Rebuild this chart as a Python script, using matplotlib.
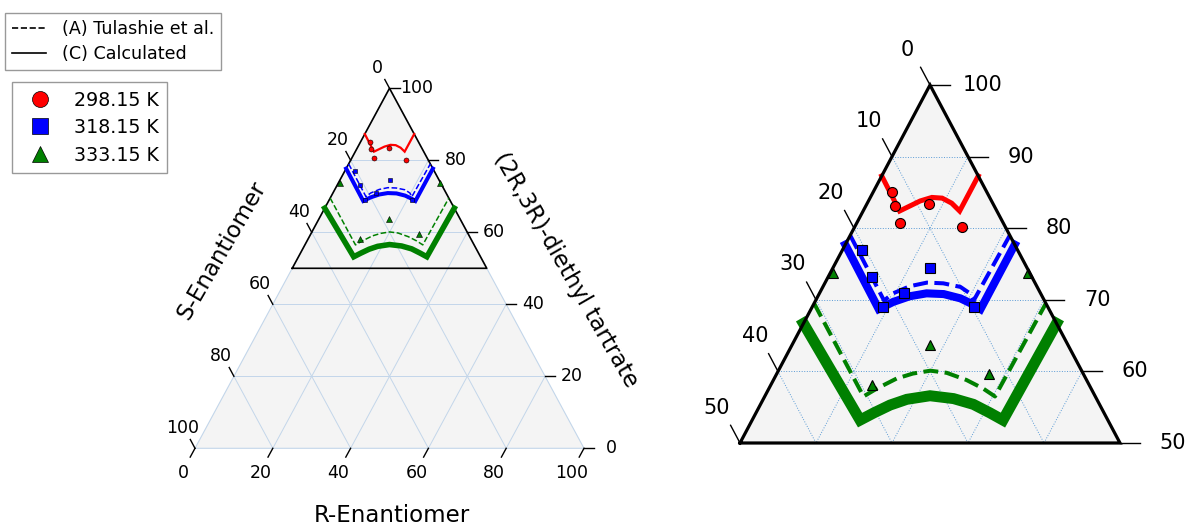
import numpy as np
import matplotlib
matplotlib.use("Agg")
import matplotlib.pyplot as plt
from matplotlib.lines import Line2D

# ---------------- data (percent; R = R-enantiomer, T = diethyl tartrate, S = 100-R-T)
# Calculated curves (solid)
calc_298_R = [0.0, 4.8, 5.8, 6.8, 8.1, 9.5, 11.1, 12.7, 12.7]
calc_298_T = [87.3, 82.4, 83.1, 83.8, 84.3, 84.2, 83.5, 82.4, 87.3]
calc_318_R = [0.0, 8.9, 10.3, 12.1, 14.1, 16.4, 18.9, 21.1, 22.3, 22.3]
calc_318_T = [77.7, 68.7, 69.7, 70.5, 70.9, 70.8, 70.2, 69.3, 68.7, 77.7]
calc_333_R = [0.0, 14.2, 15.5, 17.1, 18.9, 21.7, 25.0, 28.0, 30.8, 33.0, 33.3]
calc_333_T = [66.7, 53.2, 54.2, 55.3, 56.1, 56.6, 56.2, 55.4, 54.2, 53.2, 66.7]
# Tulashie et al. curves (dashed)
tul_318_R = [0.0, 9.0, 9.7, 11.4, 13.4, 15.6, 18.1, 19.8, 20.8, 21.0]
tul_318_T = [79.0, 69.9, 70.9, 71.9, 72.4, 72.3, 71.8, 70.9, 69.9, 79.0]
tul_333_R = [0.0, 13.0, 14.2, 16.1, 17.9, 20.0, 22.3, 25.4, 28.2, 30.3, 30.5]
tul_333_T = [69.5, 56.5, 57.6, 59.0, 59.7, 60.1, 59.8, 58.8, 57.6, 56.5, 69.5]
# Experimental points
exp_298_R = [2.5, 3.8, 8.2, 5.7, 14.1]
exp_298_T = [85.0, 83.1, 83.4, 80.7, 80.1]
exp_318_R = [2.6, 5.8, 11.1, 12.8, 9.3, 21.3]
exp_318_T = [77.0, 73.2, 71.0, 74.5, 69.0, 69.0]
exp_333_R = [0.3, 13.3, 18.1, 27.9, 26.1]
exp_333_T = [73.8, 58.1, 63.7, 59.6, 73.7]

temps = ["298.15 K", "318.15 K", "333.15 K"]
colors = ["red", "blue", "green"]
markers = ["o", "s", "^"]
legend_lines = ["(A) Tulashie et al.", "(C) Calculated"]
axis_titles = ["R-Enantiomer", "S-Enantiomer", "(2R,3R)-diethyl tartrate"]
full_ticks = [0, 20, 40, 60, 80, 100]
zoom_left_ticks = [0, 10, 20, 30, 40, 50]
zoom_right_ticks = [50, 60, 70, 80, 90, 100]

W, H = 1190, 526
fig = plt.figure(figsize=(W / 100, H / 100), dpi=100)


def cart(R, T):
    R = np.asarray(R, float)
    T = np.asarray(T, float)
    return R + T / 2.0, T


def make_ax(box, ax0, bx, ay, by):
    # box: pixel (left, top, right, bottom); px = ax0 + bx*x ; py = ay - by*T
    l, t, r, b = box
    ax = fig.add_axes([l / W, 1 - b / H, (r - l) / W, (b - t) / H])
    ax.set_xlim((l - ax0) / bx, (r - ax0) / bx)
    ax.set_ylim((ay - b) / by, (ay - t) / by)
    ax.axis("off")
    return ax


GRID_LIGHT = "#c3d6ea"
FILL = "#f4f4f4"

# ---------------- left (full) ternary
bxL, byL = 3.89, 3.6
axL = make_ax((140, 30, 665, 526), 195.0, bxL, 448.3, byL)
axL.fill([0, 100, 50], [0, 0, 100], facecolor=FILL, edgecolor=GRID_LIGHT, lw=0.8, zorder=0)
for v in [20, 40, 60, 80]:
    x, y = cart([0, 100 - v], [v, v]); axL.plot(x, y, color=GRID_LIGHT, lw=0.7, zorder=1)
    x, y = cart([0, 100 - v], [100 - v, 0]); axL.plot(x, y, color=GRID_LIGHT, lw=0.7, zorder=1)
    x, y = cart([v, v], [100 - v, 0]); axL.plot(x, y, color=GRID_LIGHT, lw=0.7, zorder=1)
x, y = cart([0, 50, 0, 0], [50, 50, 100, 50])
axL.plot(x, y, color="black", lw=1.2, zorder=2)

# ---------------- right (zoomed) ternary
bxR, byR = 7.6, 7.16
axR = make_ax((680, 15, 1190, 500), 740.0 - 25 * bxR, bxR, 443.0 + 50 * byR, byR)
axR.fill([25, 75, 50], [50, 50, 100], facecolor=FILL, edgecolor="none", zorder=0)
GRID_DOT = "#5b9bd5"
for v in [10, 20, 30, 40]:
    t = 100 - v
    x, y = cart([0, 100 - t], [t, t]); axR.plot(x, y, color=GRID_DOT, lw=0.7, ls=":", zorder=1)
    x, y = cart([0, 50 - v], [100 - v, 50]); axR.plot(x, y, color=GRID_DOT, lw=0.7, ls=":", zorder=1)
    x, y = cart([v, v], [100 - v, 50]); axR.plot(x, y, color=GRID_DOT, lw=0.7, ls=":", zorder=1)
x, y = cart([0, 50, 0, 0], [50, 50, 100, 50])
axR.plot(x, y, color="black", lw=2.3, zorder=6, solid_joinstyle="miter")

# ---------------- curves & points on both
calc = [(calc_298_R, calc_298_T), (calc_318_R, calc_318_T), (calc_333_R, calc_333_T)]
tul = [None, (tul_318_R, tul_318_T), (tul_333_R, tul_333_T)]
exps = [(exp_298_R, exp_298_T), (exp_318_R, exp_318_T), (exp_333_R, exp_333_T)]
specs = [
    (axL, [1.6, 2.9, 4.0], 1.1, [3.6, 3.5, 3.8], 0.4),
    (axR, [3.6, 5.8, 7.9], 2.9, [7.2, 7.0, 7.6], 0.8),
]
for ax, lws, dlw, mss, mew in specs:
    for i in range(3):
        x, y = cart(*calc[i])
        ax.plot(x, y, color=colors[i], lw=lws[i], zorder=3, solid_joinstyle="miter")
        if tul[i] is not None:
            x, y = cart(*tul[i])
            ax.plot(x, y, color=colors[i], lw=dlw, ls="--", zorder=3)
        x, y = cart(*exps[i])
        ax.plot(x, y, ls="none", marker=markers[i], color=colors[i], mec="black",
                mew=mew, ms=mss[i], zorder=4)


# ---------------- ticks and labels
def tick(ax, bx, by, R, T, vec_px, off_px, label, fs):
    x0, y0 = cart(R, T)
    ax.plot([x0, x0 + vec_px[0] / bx], [y0, y0 - vec_px[1] / by], color="black",
            lw=1.0, zorder=6, clip_on=False)
    ax.annotate(label, xy=(x0, y0), xytext=off_px, textcoords="offset pixels",
                ha="center", va="center", fontsize=fs)


for v in full_ticks:
    tick(axL, bxL, byL, v, 0, (-4.8, 8.8), (-12, -25), str(v), 12.5)
    tick(axL, bxL, byL, 0, 100 - v, (-4.7, -8.8), (-12.6, 20), str(v), 12.5)
    tick(axL, bxL, byL, 100 - v, v, (10, 0), (27, 0), str(v), 12.5)
for v in zoom_left_ticks:
    tick(axR, bxR, byR, 0, 100 - v, (-9.4, -17.7), (-23, 35.5), str(v), 15)
for v in zoom_right_ticks:
    tick(axR, bxR, byR, 100 - v, v, (20, 0), (53, 0), str(v), 15)

fig.text(392 / W, 1 - 515 / H, axis_titles[0], ha="center", va="center", fontsize=16.5)
fig.text(222 / W, 1 - 250 / H, axis_titles[1], ha="center", va="center", fontsize=16.5, rotation=60)
fig.text(566 / W, 1 - 270 / H, axis_titles[2], ha="center", va="center", fontsize=16.5, rotation=-60)

# ---------------- legends
h1 = [Line2D([], [], color="black", ls="--", lw=1.2), Line2D([], [], color="black", lw=1.2)]
leg1 = fig.legend(h1, legend_lines, loc="upper left", bbox_to_anchor=(5 / W, 1 - 13 / H),
                  borderaxespad=0, fontsize=12.6, fancybox=False, edgecolor="#999999",
                  framealpha=1, handlelength=1.95, handletextpad=0.9, labelspacing=0.4,
                  borderpad=0.4)
leg1.get_frame().set_linewidth(1.0)
h2 = [Line2D([], [], ls="none", marker=markers[i], color=colors[i], mec="black",
             mew=0.5, ms=11.5) for i in range(3)]
leg2 = fig.legend(h2, temps, loc="upper left", bbox_to_anchor=(12 / W, 1 - 82 / H),
                  borderaxespad=0, fontsize=13.7, fancybox=False, edgecolor="#999999",
                  framealpha=1, handlelength=2.0, handletextpad=0.8, labelspacing=0.45,
                  borderpad=0.45)
leg2.get_frame().set_linewidth(1.0)

fig.savefig("out.png", dpi=100)
